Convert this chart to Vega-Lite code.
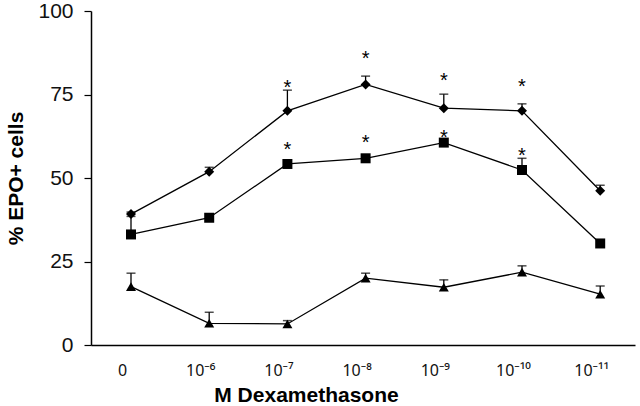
{
  "$schema": "https://vega.github.io/schema/vega-lite/v6.json",
  "width": 544,
  "height": 334,
  "autosize": "none",
  "padding": {"left": 91, "top": 11, "right": 5, "bottom": 61},
  "background": "white",
  "config": {
    "font": "Liberation Sans",
    "view": {"stroke": null},
    "axis": {"grid": false, "domainColor": "#000", "domainWidth": 1.5, "tickColor": "#000", "labelColor": "#111", "titleColor": "#000", "labelFont": "Liberation Sans", "titleFont": "Liberation Sans"}
  },
  "datasets": {
    "pts": [
      {"series": "A", "x": 0, "value": 39.2, "err": 39.8},
      {"series": "A", "x": 1, "value": 51.9, "err": 53.2},
      {"series": "A", "x": 2, "value": 70.1, "err": 76.3},
      {"series": "A", "x": 3, "value": 78.0, "err": 80.5},
      {"series": "A", "x": 4, "value": 70.9, "err": 75.1},
      {"series": "A", "x": 5, "value": 70.1, "err": 72.2},
      {"series": "A", "x": 6, "value": 46.2, "err": 47.8},
      {"series": "B", "x": 0, "value": 33.1, "err": 38.5},
      {"series": "B", "x": 1, "value": 38.1, "err": null},
      {"series": "B", "x": 2, "value": 54.2, "err": null},
      {"series": "B", "x": 3, "value": 55.9, "err": null},
      {"series": "B", "x": 4, "value": 60.6, "err": null},
      {"series": "B", "x": 5, "value": 52.4, "err": 55.9},
      {"series": "B", "x": 6, "value": 30.4, "err": null},
      {"series": "C", "x": 0, "value": 17.5, "err": 21.5},
      {"series": "C", "x": 1, "value": 6.5, "err": 9.8},
      {"series": "C", "x": 2, "value": 6.3, "err": 7.3},
      {"series": "C", "x": 3, "value": 20.0, "err": 21.5},
      {"series": "C", "x": 4, "value": 17.3, "err": 19.5},
      {"series": "C", "x": 5, "value": 21.8, "err": 23.7},
      {"series": "C", "x": 6, "value": 15.2, "err": 17.7}
    ],
    "stars": [
      {"x": 2, "y": 78.3},
      {"x": 3, "y": 87.1},
      {"x": 4, "y": 80.5},
      {"x": 5, "y": 78.8},
      {"x": 2, "y": 59.9},
      {"x": 3, "y": 61.9},
      {"x": 4, "y": 63.6},
      {"x": 5, "y": 58.1}
    ]
  },
  "layer": [
    {
      "data": {"name": "pts"},
      "mark": {"type": "line", "color": "#000", "strokeWidth": 1.3},
      "encoding": {
        "x": {"field": "x", "type": "quantitative", "scale": {"domain": [-0.5115, 6.445], "nice": false, "zero": false},
          "axis": {"values": [0, 1, 2, 3, 4, 5, 6], "ticks": false, "tickSize": 0, "labelPadding": 17, "labelFontSize": 16, "labelFont": "Noto Sans", "labelOffset": -9,
            "labelExpr": "['0','10⁻⁶','10⁻⁷','10⁻⁸','10⁻⁹','10⁻¹⁰','10⁻¹¹'][datum.value]",
            "title": "M Dexamethasone", "titleFontSize": 21, "titleFontWeight": "bold", "titleX": 215, "titleY": 56, "titleBaseline": "alphabetic", "titleAnchor": "middle"}},
        "y": {"field": "value", "type": "quantitative", "scale": {"domain": [0, 100], "nice": false},
          "axis": {"values": [0, 25, 50, 75, 100], "tickSize": 7, "tickWidth": 1.2, "labelPadding": 11, "labelFontSize": 21,
            "title": "% EPO+ cells", "titleFontSize": 21, "titleFontWeight": "bold", "titlePadding": 11}},
        "detail": {"field": "series"},
        "order": {"field": "x"}
      }
    },
    {
      "data": {"name": "pts"},
      "transform": [{"filter": "datum.err != null"}],
      "mark": {"type": "rule", "color": "#000", "strokeWidth": 1.3},
      "encoding": {
        "x": {"field": "x", "type": "quantitative"},
        "y": {"field": "value", "type": "quantitative"},
        "y2": {"field": "err"}
      }
    },
    {
      "data": {"name": "pts"},
      "transform": [{"filter": "datum.err != null"}],
      "mark": {"type": "tick", "orient": "horizontal", "color": "#000", "size": 9, "thickness": 1.5},
      "encoding": {
        "x": {"field": "x", "type": "quantitative"},
        "y": {"field": "err", "type": "quantitative"}
      }
    },
    {
      "data": {"name": "pts"},
      "mark": {"type": "point", "filled": true, "color": "#000", "opacity": 1, "size": 100},
      "encoding": {
        "x": {"field": "x", "type": "quantitative"},
        "y": {"field": "value", "type": "quantitative"},
        "shape": {"field": "series", "type": "nominal", "scale": {"domain": ["A", "B", "C"], "range": ["diamond", "square", "triangle-up"]}, "legend": null}
      }
    },
    {
      "data": {"name": "stars"},
      "mark": {"type": "text", "text": "*", "fontSize": 20, "color": "#000", "baseline": "alphabetic", "dy": 11},
      "encoding": {
        "x": {"field": "x", "type": "quantitative"},
        "y": {"field": "y", "type": "quantitative"}
      }
    }
  ]
}
